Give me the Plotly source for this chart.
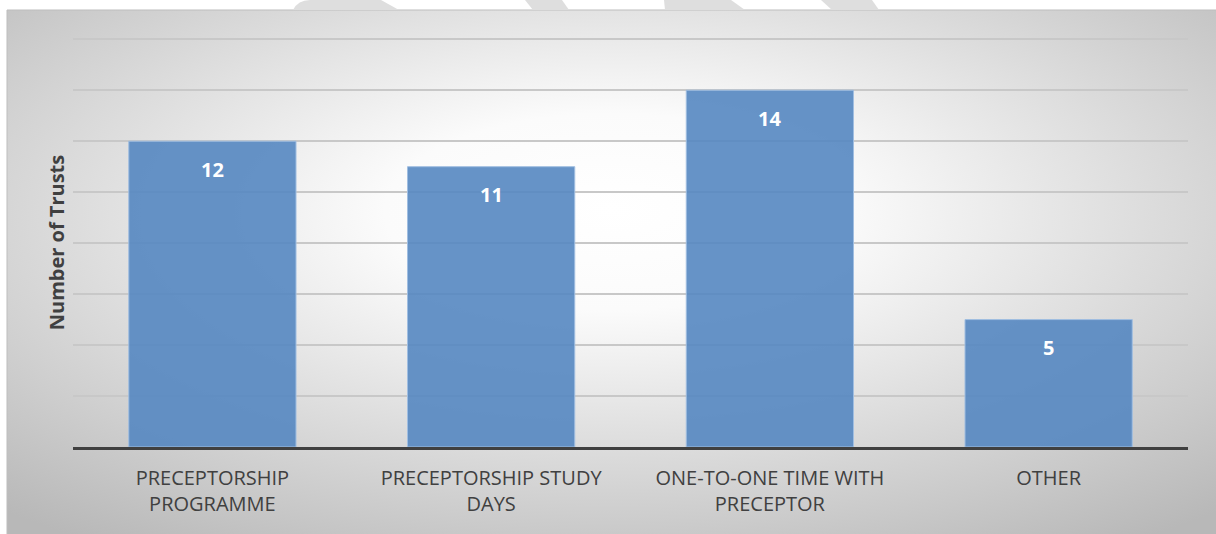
import base64
import plotly.graph_objects as go

categories = ["PRECEPTORSHIP<br>PROGRAMME", "PRECEPTORSHIP STUDY<br>DAYS",
              "ONE-TO-ONE TIME WITH<br>PRECEPTOR", "OTHER"]
values = [12, 11, 14, 5]
y_title = "Number of Trusts"

W, H = 1216, 534
L, R, T, B = 73, 28, 38, 87
PW, PH = W - L - R, H - T - B


def px(x):
    return (x - L) / PW


def py(y):
    return (H - B - y) / PH


svg = """<svg xmlns='http://www.w3.org/2000/svg' width='1209' height='524' preserveAspectRatio='none'>
<defs><radialGradient id='g' cx='50%' cy='40%' r='75%' fx='50%' fy='38%'>
<stop offset='0' stop-color='#ffffff'/><stop offset='0.25' stop-color='#fbfbfb'/>
<stop offset='1' stop-color='#b8b8b8'/></radialGradient></defs>
<rect width='1209' height='524' fill='url(#g)'/></svg>"""
src = "data:image/svg+xml;base64," + base64.b64encode(svg.encode()).decode()

fig = go.Figure()
fig.add_trace(go.Bar(
    x=categories, y=values,
    marker=dict(color="rgba(85,135,193,0.9)", line=dict(color="rgba(160,190,225,1)", width=1)),
    hoverinfo="skip",
))

annotations = [
    dict(x=c, y=v, xref="x", yref="y", text=f"<b>{v}</b>", showarrow=False,
         yshift=-28, font=dict(family="Open Sans", size=20, color="white"))
    for c, v in zip(categories, values)
]

shapes = [
    dict(type="rect", xref="paper", yref="paper", x0=px(7), x1=px(1220), y0=py(540), y1=py(10),
         line=dict(color="#bdbdbd", width=1), layer="below"),
]
wm = [
    "M {a},{b} Q {c},{d} {e},{d} L {f},{d} L {g},{b} Z".format(
        a=px(293), b=py(10), c=px(298), d=py(0), e=px(310), f=px(381), g=px(399)),
    "M {},{} L {},{} L {},{} L {},{} Z".format(px(525), py(0), px(562), py(0), px(569), py(10), px(533), py(10)),
    "M {},{} L {},{} L {},{} L {},{} Z".format(px(664), py(0), px(731), py(0), px(745), py(10), px(665), py(10)),
    "M {},{} L {},{} L {},{} L {},{} Z".format(px(821), py(0), px(872), py(0), px(879), py(10), px(832), py(10)),
]
for p in wm:
    shapes.append(dict(type="path", xref="paper", yref="paper", path=p,
                       fillcolor="#dedede", line=dict(width=0), layer="below"))

fig.update_layout(
    width=W, height=H,
    margin=dict(l=L, r=R, t=T, b=B, autoexpand=False),
    paper_bgcolor="white", plot_bgcolor="rgba(0,0,0,0)",
    bargap=0.4, showlegend=False,
    font=dict(family="Open Sans", color="#404040"),
    images=[dict(source=src, xref="paper", yref="paper", x=px(7), y=py(10),
                 sizex=px(1216) - px(7), sizey=py(10) - py(534), sizing="stretch",
                 layer="below", xanchor="left", yanchor="top")],
    shapes=shapes,
    annotations=annotations,
    xaxis=dict(showgrid=False, showline=True, linecolor="#404040", linewidth=3,
               ticks="", tickfont=dict(size=20, color="#404040"), ticklabelstandoff=11,
               fixedrange=True),
    yaxis=dict(range=[0, 16.05], dtick=2, showgrid=True, gridcolor="#c8c8c8", gridwidth=1.5,
               showticklabels=False, zeroline=False, showline=False,
               title=dict(text=f"<b>{y_title}</b>", font=dict(size=20, color="#404040"), standoff=2),
               fixedrange=True),
)

fig.write_html("out.html")
